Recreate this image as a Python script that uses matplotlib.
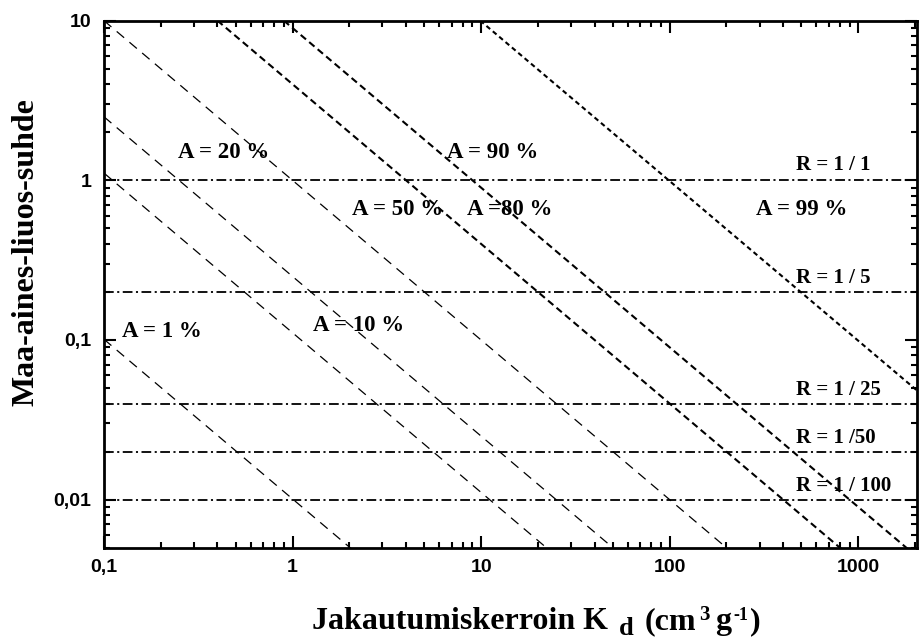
import matplotlib
matplotlib.use('Agg')

import matplotlib.pyplot as plt
from matplotlib.ticker import FixedLocator, LogLocator, NullFormatter

# sorbed fraction lines: Kd * R = A / (1 - A), constants
line_labels = ['A = 1 %', 'A = 10 %', 'A = 20 %', 'A = 50 %', 'A =80 %', 'A = 90 %', 'A = 99 %']
kd_times_r = [0.0101, 0.111, 0.25, 1.0, 4.0, 9.0, 99.0]
label_kd = [0.124, 1.28, 0.247, 2.07, 8.43, 6.62, 286]
label_r = [0.113, 0.124, 1.49, 0.654, 0.654, 1.49, 0.654]

# soil-solution ratios
ratio_values = [1.0, 0.2, 0.04, 0.02, 0.01]
ratio_labels = ['R = 1 / 1', 'R = 1 / 5', 'R = 1 / 25', 'R = 1 /50', 'R = 1 / 100']
ratio_label_r = [1.24, 0.244, 0.0489, 0.0244, 0.0121]

x_ticks = [0.1, 1, 10, 100, 1000]
x_ticklabels = ['0,1', '1', '10', '100', '1000']
y_ticks = [0.01, 0.1, 1, 10]
y_ticklabels = ['0,01', '0,1', '1', '10']

x_min, x_max = 0.1, 2050
y_min, y_max = 0.005, 10

plt.rcParams['lines.scale_dashes'] = False

serif = 'Liberation Serif'
sans = 'Liberation Sans'
W, H = 921, 642

fig = plt.figure(figsize=(W / 100, H / 100), dpi=100)
ax = fig.add_axes([0.1129, 0.1469, 0.8827, 0.8209])

# diagonal lines, thin for the low ones, heavier for the high ones
for i, k in enumerate(kd_times_r):
    xs = [x_min, x_max]
    ys = [k / x for x in xs]
    if i < 4:
        ax.plot(xs, ys, color='black', lw=0.9, dashes=(7, 5))
    elif i < 6:
        ax.plot(xs, ys, color='black', lw=1.5, dashes=(5, 3))
    else:
        ax.plot(xs, ys, color='black', lw=1.5, dashes=(3.5, 2.5))

for r in ratio_values:
    ax.axhline(r, color='black', lw=1.3, dashes=(7, 2.5, 1.5, 2.5))

for lab, x, y in zip(line_labels, label_kd, label_r):
    ax.text(x, y, lab, fontsize=16.5, fontweight='bold', family=serif, va='center', ha='left')

for lab, y in zip(ratio_labels, ratio_label_r):
    ax.text(468, y, lab, fontsize=15, fontweight='bold', family=serif, va='center', ha='left')

ax.set_xscale('log')
ax.set_yscale('log')
ax.set_xlim(x_min, x_max)
ax.set_ylim(y_min, y_max)

ax.xaxis.set_major_locator(FixedLocator(x_ticks))
ax.xaxis.set_ticklabels(x_ticklabels)
ax.yaxis.set_major_locator(FixedLocator(y_ticks))
ax.yaxis.set_ticklabels(y_ticklabels)
ax.xaxis.set_minor_locator(LogLocator(base=10, subs=range(2, 10), numticks=20))
ax.yaxis.set_minor_locator(LogLocator(base=10, subs=range(2, 10), numticks=20))
ax.xaxis.set_minor_formatter(NullFormatter())
ax.yaxis.set_minor_formatter(NullFormatter())

ax.tick_params(which='both', direction='in', top=True, right=True, width=1.5)
ax.tick_params(which='major', length=8.5)
ax.tick_params(which='minor', length=4.5)
ax.tick_params(axis='x', pad=8.5)
ax.tick_params(axis='y', pad=9)
for t in ax.get_xticklabels() + ax.get_yticklabels():
    t.set_fontsize(14)
    t.set_fontweight('bold')
    t.set_family(sans)

for s in ax.spines.values():
    s.set_linewidth(2)

# x label in pieces: low subscript d, superscripts on the unit
xl = dict(fontweight='bold', family=serif, va='baseline', ha='left')
fig.text(312 / W, 1 - 629 / H, 'Jakautumiskerroin K', fontsize=23, **xl)
fig.text(619 / W, 1 - 635 / H, 'd', fontsize=19, **xl)
fig.text(645 / W, 1 - 629 / H, '(cm', fontsize=23, **xl)
fig.text(699 / W, 1 - 620 / H, '3', fontsize=15, **xl)
fig.text(715 / W, 1 - 629 / H, 'g', fontsize=23, **xl)
fig.text(733 / W, 1 - 620 / H, '-1', fontsize=13, **xl)
fig.text(750 / W, 1 - 629 / H, ')', fontsize=23, **xl)

fig.text(26 / W, 1 - 252 / H, 'Maa-aines-liuos-suhde', fontsize=23, fontweight='bold',
         family=serif, rotation=90, ha='center', va='center')

fig.savefig('out.png', dpi=100)
